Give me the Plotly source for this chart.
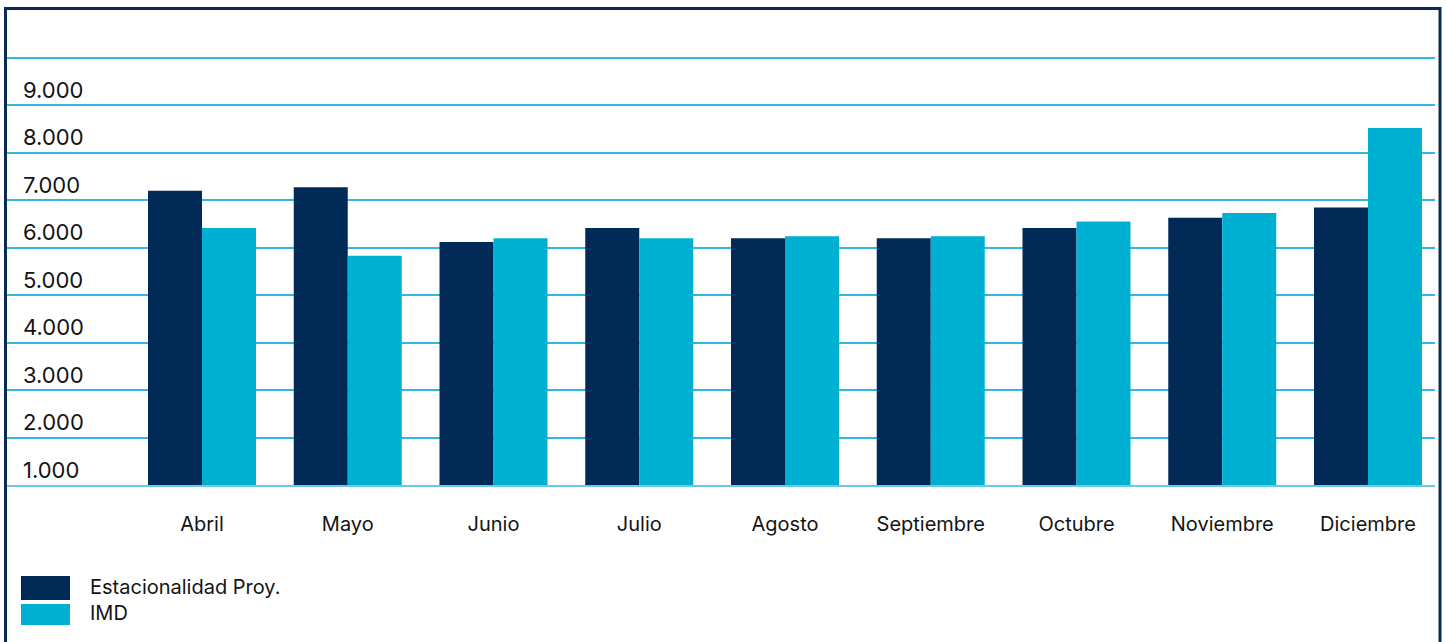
import plotly.graph_objects as go

# ---- data ----
months = ["Abril", "Mayo", "Junio", "Julio", "Agosto", "Septiembre", "Octubre", "Noviembre", "Diciembre"]
estacionalidad = [7195, 7268, 6118, 6412, 6196, 6196, 6412, 6627, 6843]
imd = [6412, 5827, 6196, 6196, 6235, 6235, 6549, 6725, 8515]
y_tickvals = [1000, 2000, 3000, 4000, 5000, 6000, 7000, 8000, 9000, 10000]
y_ticktext = ["1.000", "2.000", "3.000", "4.000", "5.000", "6.000", "7.000", "8.000", "9.000", ""]
series_names = ["Estacionalidad Proy.", "IMD"]

# ---- style ----
W, H = 1446, 642
NAVY = "#012a57"
CYAN = "#00b0d3"
GRID = "#2fb9e0"
TEXT = "#141414"
FONT = "Inter, Liberation Sans, Arial, sans-serif"

# plot area in pixels
PL, PR, PT, PB = 7, 1435, 30, 485
pw, ph = PR - PL, PB - PT


def px(x):
    return (x - PL) / pw


def py(y):
    return (PB - y) / ph


fig = go.Figure()
fig.add_trace(go.Bar(x=months, y=estacionalidad, name=series_names[0],
                     marker=dict(color=NAVY, line=dict(width=0)), showlegend=False))
fig.add_trace(go.Bar(x=months, y=imd, name=series_names[1],
                     marker=dict(color=CYAN, line=dict(width=0)), showlegend=False))

shapes = [
    # outer frame
    dict(type="rect", xref="paper", yref="paper", x0=px(5.5), x1=px(1440), y0=py(660), y1=py(8.5),
         line=dict(color="#0b2a55", width=3), fillcolor="rgba(0,0,0,0)", layer="above"),
    # legend swatches
    dict(type="rect", xref="paper", yref="paper", x0=px(21), x1=px(70), y0=py(600), y1=py(576),
         line=dict(width=0), fillcolor=NAVY),
    dict(type="rect", xref="paper", yref="paper", x0=px(21), x1=px(70), y0=py(625), y1=py(604),
         line=dict(width=0), fillcolor=CYAN),
]

annotations = [
    dict(xref="paper", yref="paper", x=px(88), y=py(587), text=series_names[0], showarrow=False,
         xanchor="left", yanchor="middle", font=dict(family=FONT, size=20, color=TEXT)),
    dict(xref="paper", yref="paper", x=px(88), y=py(613), text=series_names[1], showarrow=False,
         xanchor="left", yanchor="middle", font=dict(family=FONT, size=20, color=TEXT)),
]

y_per_px = 1000 / 47.5
y0 = 1000
y1 = 1000 + ph * y_per_px

# category range so the plot spans the full width
step = 145.75
first_center = 202
xr0 = -(first_center - PL) / step
xr1 = xr0 + pw / step

fig.update_layout(
    width=W, height=H,
    margin=dict(l=PL, r=W - PR, t=PT, b=H - PB, pad=0),
    paper_bgcolor="white", plot_bgcolor="white",
    barmode="group", bargap=0.259, bargroupgap=0,
    font=dict(family=FONT, color=TEXT),
    shapes=shapes, annotations=annotations,
    xaxis=dict(range=[xr0, xr1], showgrid=False, zeroline=False,
               showline=True, linecolor="#6cc9e6", linewidth=2, layer="below traces",
               ticks="", tickfont=dict(family=FONT, size=20, color=TEXT),
               ticklabelstandoff=20, fixedrange=True),
    yaxis=dict(range=[y0, y1], tickmode="array", tickvals=y_tickvals, ticktext=y_ticktext,
               showgrid=True, gridcolor=GRID, gridwidth=1.5, zeroline=False, showline=False,
               ticks="", ticklabelposition="inside", ticklabelstandoff=13, ticklabelshift=-15,
               tickfont=dict(family=FONT, size=22, color=TEXT), layer="below traces",
               fixedrange=True),
)

fig.write_html("out.html", config={"displayModeBar": False},
               post_script="document.body.style.margin='0';document.body.style.overflow='hidden';")
